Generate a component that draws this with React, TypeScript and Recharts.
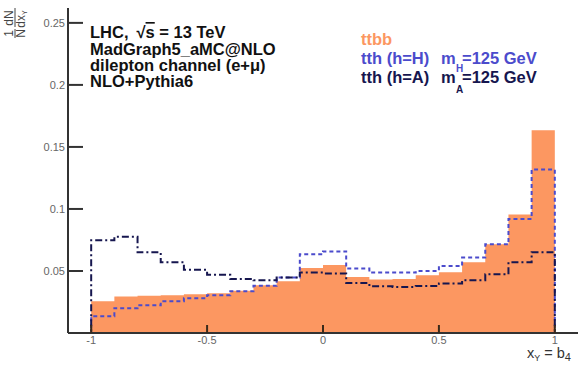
import React from "react";
import { ComposedChart, Area, Line, XAxis, YAxis } from "recharts";

// bin edges of the histogram (20 bins between -1 and 1, empty bins outside)
const binEdges = [
    -1.1, -1.0, -0.9, -0.8, -0.7, -0.6, -0.5, -0.4, -0.3, -0.2, -0.1,
    0.0, 0.1, 0.2, 0.3, 0.4, 0.5, 0.6, 0.7, 0.8, 0.9, 1.0, 1.1,
];

// contents of the 20 bins from -1 to 1
const ttbbValues = [
    0.0256, 0.0295, 0.0300, 0.0305, 0.0312, 0.0320, 0.0340, 0.0385, 0.0418, 0.0525,
    0.0548, 0.0452, 0.0432, 0.0436, 0.0465, 0.0490, 0.0570, 0.0715, 0.0955, 0.1635,
];
const tthHValues = [
    0.0135, 0.0200, 0.0223, 0.0255, 0.0280, 0.0304, 0.0336, 0.0380, 0.0447, 0.0635,
    0.0658, 0.0520, 0.0487, 0.0487, 0.0500, 0.0540, 0.0608, 0.0715, 0.0920, 0.1318,
];
const tthAValues = [
    0.0748, 0.0775, 0.0650, 0.0570, 0.0510, 0.0470, 0.0436, 0.0425, 0.0447, 0.0487,
    0.0480, 0.0403, 0.0377, 0.0370, 0.0378, 0.0400, 0.0425, 0.0473, 0.0570, 0.0650,
];

const xTicks = [-1, -0.5, 0, 0.5, 1];
const yTicks = [0.05, 0.1, 0.15, 0.2, 0.25];

const ORANGE = "#fc9761";
const BLUE = "#4b4bcc";
const NAVY = "#16164f";
const FONT = "'Liberation Sans', Arial, sans-serif";

// value of the bin that starts at edge i (0 outside the [-1, 1] range)
const binValue = (arr: number[], i: number) => (i >= 1 && i <= arr.length ? arr[i - 1] : 0);

const data = binEdges.map((x, i) => ({
    x,
    ttbb: binValue(ttbbValues, i),
    tthH: binValue(tthHValues, i),
    tthA: binValue(tthAValues, i),
}));

const YTick = (props: any) => {
    const { x, y, payload } = props;
    return (
        <g>
            <line x1={x} x2={x + 15} y1={y} y2={y} stroke="#333" strokeWidth={2} />
            <text x={x - 3} y={y} dy={4} textAnchor="end" fontSize={11} fill="#666" fontFamily={FONT}>
                {String(payload.value)}
            </text>
        </g>
    );
};

const XTick = (props: any) => {
    const { x, y, payload } = props;
    return (
        <g>
            <line x1={x} x2={x} y1={y} y2={y - 8} stroke="#3a2a1a" strokeWidth={2} />
            <text x={x} y={y + 11} textAnchor="middle" fontSize={11} fill="#666" fontFamily={FONT}>
                {String(payload.value)}
            </text>
        </g>
    );
};

const Labels = () => (
    <svg
        width={578}
        height={368}
        style={{ position: "absolute", left: 0, top: 0, pointerEvents: "none" }}
        fontFamily={FONT}
    >
        {/* y axis title: 1/N dN/dx_Y, rotated */}
        <g transform="translate(15, 0) rotate(-90)" fill="#444" fontSize={12}>
            <text x={-33.5} y={-2} textAnchor="middle">1</text>
            <line x1={-38} x2={-29} y1={0} y2={0} stroke="#444" strokeWidth={1} />
            <text x={-33.5} y={10} textAnchor="middle">N</text>
            <text x={-18} y={-2} textAnchor="middle">dN</text>
            <line x1={-27} x2={-8} y1={0} y2={0} stroke="#444" strokeWidth={1} />
            <text x={-19} y={10} textAnchor="middle">
                dx<tspan fontSize={7} dy={2}>Y</tspan>
            </text>
        </g>

        {/* process / setup text */}
        <g fontSize={16.5} fontWeight="bold" fill="#111">
            <text x={90} y={38}>
                LHC,
                <tspan dx={8}>√</tspan>
                <tspan textDecoration="overline">s</tspan> = 13 TeV
            </text>
            <text x={90} y={54.5}>MadGraph5_aMC@NLO</text>
            <text x={90} y={71}>dilepton channel (e+μ)</text>
            <text x={90} y={86.5}>NLO+Pythia6</text>
        </g>

        {/* legend */}
        <g fontSize={16.5} fontWeight="bold">
            <text x={361} y={45} fill={ORANGE}>ttbb</text>
            <text x={361} y={64} fill={BLUE}>
                tth (h=H)
                <tspan x={441}>m</tspan>
                <tspan x={456} dy={8} fontSize={10}>H</tspan>
                <tspan x={462} dy={-8}>=125 GeV</tspan>
            </text>
            <text x={361} y={82.5} fill={NAVY}>
                tth (h=A)
                <tspan x={441}>m</tspan>
                <tspan x={456} dy={10} fontSize={10}>A</tspan>
                <tspan x={462} dy={-10}>=125 GeV</tspan>
            </text>
        </g>

        {/* x axis title */}
        <text x={527} y={358} fontSize={14.5} fill="#333">
            x<tspan fontSize={9} dy={3}>Y</tspan>
            <tspan dy={-3}> = b</tspan>
            <tspan fontSize={11} dy={3}>4</tspan>
        </text>
    </svg>
);

export default function App() {
    return (
        <div style={{ position: "absolute", left: 0, top: 0, width: 578, height: 368, background: "#fff" }}>
            <ComposedChart
                width={578}
                height={368}
                data={data}
                margin={{ top: 8, right: 0, left: 0, bottom: 0 }}
            >
                <Area
                    dataKey="ttbb"
                    type="stepAfter"
                    fill={ORANGE}
                    fillOpacity={1}
                    stroke="none"
                    dot={false}
                    activeDot={false}
                    isAnimationActive={false}
                />
                <Line
                    dataKey="tthH"
                    type="stepAfter"
                    stroke={BLUE}
                    strokeWidth={2}
                    strokeDasharray="4 3"
                    dot={false}
                    activeDot={false}
                    isAnimationActive={false}
                />
                <Line
                    dataKey="tthA"
                    type="stepAfter"
                    stroke={NAVY}
                    strokeWidth={2}
                    strokeDasharray="7 3 2 3"
                    dot={false}
                    activeDot={false}
                    isAnimationActive={false}
                />
                <XAxis
                    dataKey="x"
                    type="number"
                    domain={[-1.1, 1.1]}
                    ticks={xTicks}
                    tick={<XTick />}
                    tickLine={false}
                    tickSize={0}
                    tickMargin={0}
                    axisLine={{ stroke: "#333", strokeWidth: 2 }}
                    height={35}
                    allowDataOverflow
                />
                <XAxis
                    xAxisId="top"
                    orientation="top"
                    dataKey="x"
                    type="number"
                    domain={[-1.1, 1.1]}
                    tick={false}
                    tickLine={false}
                    axisLine={{ stroke: "#777", strokeWidth: 2 }}
                    height={0}
                />
                <YAxis
                    type="number"
                    domain={[0, 0.262]}
                    ticks={yTicks}
                    tick={<YTick />}
                    tickLine={false}
                    tickSize={0}
                    tickMargin={0}
                    axisLine={{ stroke: "#333", strokeWidth: 2 }}
                    width={68}
                    allowDataOverflow
                />
            </ComposedChart>
            <Labels />
        </div>
    );
}
